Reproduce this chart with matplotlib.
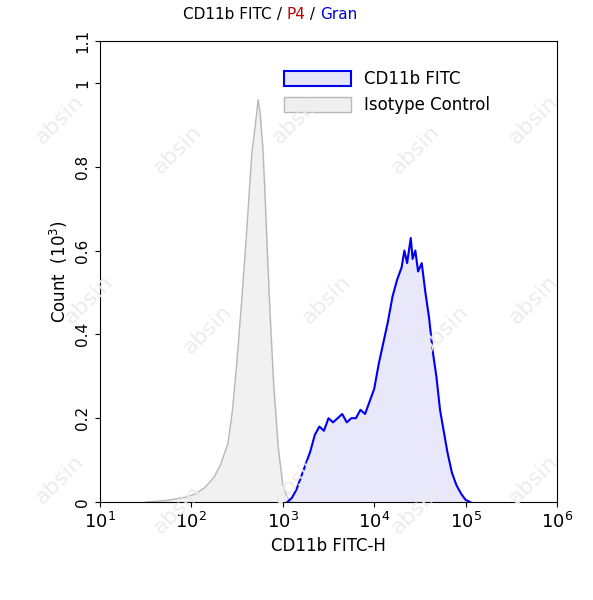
import matplotlib
matplotlib.use("Agg")
import matplotlib.pyplot as plt
import numpy as np

iso_logx = [1.5,1.7,1.85,1.95,2.05,2.15,2.25,2.32,2.4,2.45,2.5,2.55,2.6,2.63,2.66,2.7,2.73,2.75,2.78,2.8,2.83,2.86,2.9,2.95,3.0,3.05,3.1]
iso_y    = [0,0.003,0.008,0.012,0.02,0.035,0.06,0.09,0.14,0.22,0.34,0.48,0.63,0.73,0.83,0.9,0.96,0.93,0.85,0.76,0.6,0.45,0.28,0.13,0.04,0.01,0]
cd_logx = [3.05,3.1,3.15,3.2,3.25,3.3,3.35,3.4,3.45,3.5,3.55,3.6,3.65,3.7,3.75,3.8,3.85,3.9,3.95,4.0,4.05,4.1,4.15,4.2,4.25,4.3,4.33,4.36,4.4,4.42,4.45,4.48,4.52,4.56,4.6,4.64,4.68,4.72,4.76,4.8,4.85,4.9,4.95,5.0,5.05]
cd_y    = [0,0.01,0.03,0.06,0.09,0.12,0.16,0.18,0.17,0.2,0.19,0.2,0.21,0.19,0.2,0.2,0.22,0.21,0.24,0.27,0.33,0.38,0.43,0.49,0.53,0.56,0.6,0.57,0.63,0.58,0.6,0.55,0.57,0.5,0.44,0.36,0.3,0.22,0.17,0.12,0.07,0.04,0.02,0.005,0]

fig = plt.figure(figsize=(5.93,6.0), dpi=100)
for (x, y) in [(0.1,0.8),(0.3,0.75),(0.5,0.8),(0.7,0.75),(0.9,0.8),(0.15,0.5),(0.35,0.45),(0.55,0.5),(0.75,0.45),(0.9,0.5),(0.1,0.2),(0.3,0.15),(0.5,0.2),(0.7,0.15),(0.9,0.2)]:
    fig.text(x, y, 'absin', rotation=45, color='#ececec', fontsize=16, ha='center', va='center', zorder=0)
ax = fig.add_axes([100/593, 1-502/600, 457/593, 461/600])
ax.set_facecolor('none')
ix = 10**np.array(iso_logx); cx = 10**np.array(cd_logx)
ax.fill_between(ix, iso_y, color='#f0f0f0', alpha=0.9, zorder=1)
ax.plot(ix, iso_y, color='#b8b8b8', lw=1, zorder=2)
ax.fill_between(cx, cd_y, color='#e6e6fa', alpha=0.9, zorder=1)
ax.plot(cx, cd_y, color='#0000ee', lw=1.5, zorder=3)
ax.set_xscale('log')
ax.set_xlim(10, 1e6); ax.set_ylim(0, 1.1)
ax.set_xticks([10,100,1e3,1e4,1e5,1e6])
ax.set_xticklabels([f'10$^{{{i}}}$' for i in range(1,7)], fontsize=13)
ax.minorticks_off()
ax.set_yticks([0,0.2,0.4,0.6,0.8,1.0,1.1])
ax.set_yticklabels(['0','0.2','0.4','0.6','0.8','1','1.1'], rotation=90, va='center', fontsize=11)
ax.set_xlabel('CD11b FITC-H', fontsize=12)
ax.set_ylabel('Count  (10$^3$)', fontsize=12)
from matplotlib.patches import Patch
ax.legend(handles=[Patch(facecolor='#e6e6fa', edgecolor='#0000ee', lw=1.5, label='CD11b FITC'),
                   Patch(facecolor='#f0f0f0', edgecolor='#b8b8b8', label='Isotype Control')],
          loc='upper left', bbox_to_anchor=(0.37, 0.97), frameon=False, fontsize=12,
          handlelength=4, handleheight=1.0, labelspacing=0.5)
parts = [('CD11b FITC', 'black'), (' / ', 'black'), ('P4', '#c00000'), (' / ', 'black'), ('Gran', '#0000dd')]
fig.canvas.draw()
r = fig.canvas.get_renderer()
x0 = 183/593
for t, c in parts:
    tx = fig.text(x0, 0.968, t, color=c, fontsize=11)
    x0 += tx.get_window_extent(r).width / fig.bbox.width
fig.savefig('out.png')
